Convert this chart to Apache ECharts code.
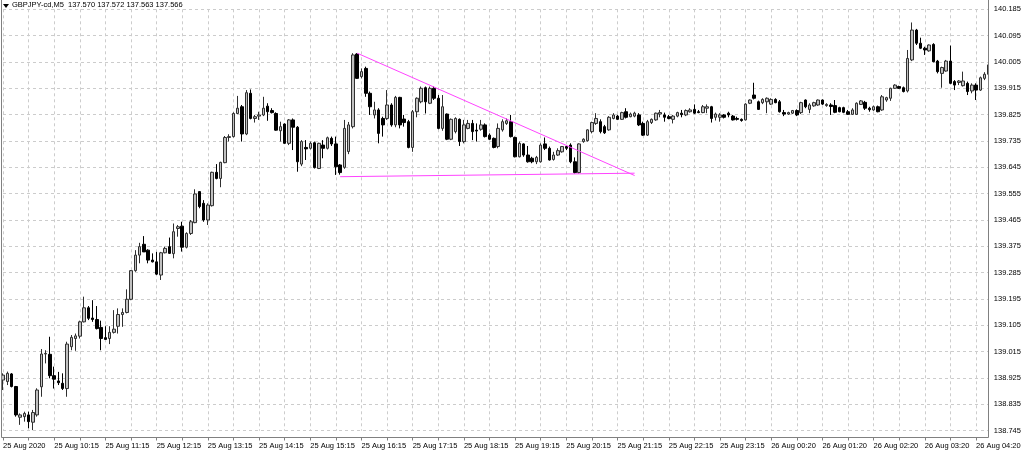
<!DOCTYPE html>
<html><head><meta charset="utf-8">
<script src="https://cdn.jsdelivr.net/npm/echarts@6/dist/echarts.min.js"></script>
<style>html,body{margin:0;padding:0;background:#fff}#c{width:1024px;height:454px}</style>
</head><body><div id="c"></div>
<script>
const opens=[
138.918,138.913,138.939,138.896,138.791,138.793,138.799,138.774,138.799,138.895,139.007,139.006,
138.933,138.915,138.907,138.889,139.032,139.060,139.068,139.117,139.165,139.130,139.125,139.098,
139.063,139.060,139.081,139.102,139.142,139.149,139.194,139.292,139.345,139.382,139.362,139.328,
139.322,139.277,139.353,139.374,139.350,139.436,139.444,139.372,139.419,139.456,139.562,139.522,
139.465,139.514,139.628,139.607,139.661,139.747,139.750,139.829,139.852,139.759,139.898,139.812,
139.820,139.824,139.854,139.839,139.829,139.770,139.793,139.727,139.807,139.782,139.656,139.713,
139.710,139.729,139.641,139.721,139.710,139.744,139.725,139.653,139.645,139.699,139.784,140.032,
139.955,139.983,139.898,139.824,139.841,139.812,139.812,139.858,139.790,139.884,139.810,139.801,
139.713,139.835,139.869,139.917,139.864,139.915,139.881,139.778,139.827,139.741,139.767,139.809,
139.733,139.778,139.795,139.772,139.775,139.790,139.755,139.744,139.716,139.773,139.795,139.801,
139.747,139.681,139.725,139.687,139.676,139.664,139.664,139.725,139.710,139.672,139.687,139.698,
139.716,139.721,139.664,139.627,139.733,139.736,139.767,139.795,139.801,139.784,139.773,139.812,
139.820,139.809,139.835,139.818,139.820,139.824,139.795,139.755,139.798,139.807,139.827,139.824,
139.818,139.809,139.820,139.830,139.824,139.835,139.843,139.835,139.832,139.847,139.852,139.816,
139.816,139.824,139.830,139.820,139.812,139.809,139.807,139.864,139.892,139.869,139.866,139.869,
139.861,139.877,139.869,139.832,139.827,139.830,139.839,139.832,139.875,139.843,139.855,139.858,
139.875,139.856,139.858,139.856,139.849,139.849,139.835,139.826,139.826,139.860,139.867,139.847,
139.841,139.852,139.841,139.875,139.881,139.915,139.921,139.917,139.906,140.012,140.114,140.069,
140.052,140.043,140.065,140.008,139.966,139.974,140.008,139.938,139.935,139.924,139.932,139.906,
139.926,139.909,139.949,139.963];
const highs=[
138.941,138.947,138.942,138.898,138.804,138.810,138.810,138.816,138.890,139.024,139.020,139.066,
138.964,138.946,138.941,139.049,139.072,139.077,139.121,139.203,139.171,139.191,139.171,139.121,
139.102,139.102,139.157,139.163,139.163,139.228,139.294,139.362,139.387,139.410,139.365,139.351,
139.356,139.356,139.374,139.405,139.453,139.448,139.459,139.423,139.465,139.570,139.563,139.533,
139.522,139.630,139.656,139.664,139.752,139.758,139.833,139.889,139.858,139.909,139.911,139.824,
139.835,139.886,139.864,139.847,139.833,139.801,139.795,139.810,139.812,139.786,139.738,139.738,
139.733,139.733,139.729,139.738,139.750,139.750,139.750,139.656,139.807,139.800,140.035,140.035,
139.983,139.989,139.904,139.869,139.847,139.818,139.909,139.864,139.889,139.886,139.824,139.807,
139.841,139.884,139.921,139.921,139.921,139.921,139.892,139.892,139.829,139.812,139.816,139.812,
139.807,139.807,139.807,139.795,139.807,139.795,139.761,139.747,139.795,139.809,139.812,139.824,
139.750,139.733,139.727,139.718,139.681,139.684,139.727,139.747,139.716,139.698,139.710,139.718,
139.721,139.727,139.679,139.727,139.744,139.775,139.801,139.830,139.809,139.790,139.820,139.830,
139.824,139.835,139.847,139.832,139.835,139.830,139.801,139.807,139.812,139.832,139.841,139.832,
139.824,139.824,139.835,139.841,139.843,139.847,139.860,139.841,139.858,139.860,139.855,139.832,
139.830,139.827,139.835,139.824,139.818,139.812,139.864,139.877,139.934,139.873,139.881,139.884,
139.881,139.881,139.875,139.841,139.835,139.841,139.843,139.869,139.877,139.864,139.869,139.877,
139.877,139.864,139.864,139.875,139.852,139.852,139.841,139.847,139.867,139.875,139.872,139.852,
139.856,139.856,139.892,139.886,139.917,139.929,139.924,139.921,140.046,140.140,140.118,140.088,
140.057,140.065,140.069,140.012,139.989,140.012,140.061,139.943,139.943,139.972,139.938,139.932,
139.932,139.955,139.970,140.006];
const lows=[
138.884,138.901,138.893,138.793,138.765,138.776,138.753,138.747,138.793,138.861,138.975,138.924,
138.889,138.901,138.884,138.861,139.020,139.018,139.060,139.115,139.123,139.117,139.091,139.020,
139.055,139.041,139.077,139.077,139.100,139.146,139.191,139.288,139.317,139.356,139.317,139.320,
139.277,139.260,139.351,139.349,139.334,139.408,139.357,139.368,139.414,139.454,139.505,139.459,
139.448,139.511,139.604,139.577,139.659,139.733,139.747,139.827,139.733,139.755,139.809,139.798,
139.807,139.820,139.804,139.829,139.770,139.733,139.725,139.721,139.704,139.630,139.649,139.670,
139.706,139.641,139.639,139.676,139.706,139.718,139.619,139.620,139.640,139.690,139.778,139.947,
139.949,139.886,139.824,139.812,139.727,139.750,139.807,139.784,139.782,139.778,139.784,139.710,
139.698,139.816,139.864,139.829,139.861,139.875,139.775,139.770,139.738,139.738,139.761,139.718,
139.727,139.775,139.738,139.733,139.770,139.747,139.738,139.710,139.710,139.767,139.790,139.747,
139.679,139.679,139.681,139.661,139.659,139.656,139.661,139.704,139.668,139.668,139.684,139.695,
139.704,139.659,139.624,139.624,139.729,139.733,139.761,139.790,139.761,139.759,139.770,139.809,
139.807,139.807,139.812,139.816,139.816,139.786,139.752,139.752,139.793,139.804,139.816,139.801,
139.809,139.795,139.816,139.816,139.820,139.832,139.827,139.830,139.830,139.830,139.798,139.805,
139.801,139.812,139.816,139.805,139.805,139.801,139.805,139.861,139.877,139.841,139.861,139.830,
139.858,139.864,139.832,139.820,139.824,139.827,139.820,139.827,139.847,139.830,139.852,139.855,
139.858,139.852,139.824,139.830,139.833,139.830,139.824,139.824,139.824,139.858,139.841,139.835,
139.838,139.833,139.838,139.869,139.872,139.913,139.913,139.901,139.901,140.008,140.063,140.049,
140.029,140.040,140.004,139.966,139.917,139.972,139.929,139.909,139.926,139.921,139.892,139.898,
139.875,139.906,139.943,139.961];
const closes=[
138.935,138.941,138.896,138.799,138.799,138.804,138.776,138.807,138.884,139.007,139.009,138.933,
138.921,138.909,138.889,139.041,139.064,139.069,139.117,139.165,139.129,139.125,139.094,139.060,
139.057,139.081,139.092,139.142,139.149,139.194,139.292,139.345,139.374,139.356,139.328,139.322,
139.280,139.353,139.368,139.351,139.425,139.442,139.372,139.419,139.459,139.554,139.511,139.465,
139.516,139.628,139.607,139.662,139.747,139.750,139.829,139.847,139.759,139.900,139.812,139.818,
139.824,139.847,139.835,139.832,139.772,139.784,139.727,139.807,139.782,139.664,139.733,139.708,
139.727,139.644,139.727,139.710,139.746,139.725,139.647,139.627,139.778,139.790,140.029,139.949,
139.972,139.898,139.852,139.841,139.761,139.790,139.858,139.790,139.884,139.790,139.798,139.713,
139.835,139.881,139.915,139.869,139.915,139.881,139.778,139.852,139.741,139.809,139.812,139.733,
139.790,139.795,139.767,139.769,139.790,139.750,139.741,139.713,139.778,139.801,139.804,139.750,
139.681,139.727,139.687,139.664,139.664,139.679,139.721,139.710,139.670,139.687,139.702,139.716,
139.710,139.664,139.627,139.725,139.741,139.773,139.798,139.812,139.767,139.763,139.816,139.824,
139.809,139.832,139.816,139.827,139.830,139.790,139.755,139.801,139.809,139.830,139.832,139.816,
139.812,139.820,139.832,139.825,139.839,139.841,139.830,139.832,139.852,139.852,139.812,139.827,
139.824,139.816,139.824,139.807,139.809,139.805,139.861,139.875,139.881,139.843,139.877,139.881,
139.877,139.866,139.835,139.827,139.832,139.839,139.824,139.866,139.852,139.858,139.866,139.875,
139.861,139.860,139.853,139.833,139.835,139.833,139.826,139.841,139.864,139.872,139.847,139.842,
139.852,139.835,139.886,139.883,139.915,139.926,139.915,139.904,140.017,140.114,140.069,140.052,
140.046,140.063,140.006,139.972,139.986,140.008,139.932,139.926,139.940,139.940,139.904,139.926,
139.909,139.951,139.963,139.995];
// x-axis tick labels, one every 12 bars (1 hour of M5 bars)
const tickLabels=['25 Aug 2020','25 Aug 10:15','25 Aug 11:15','25 Aug 12:15','25 Aug 13:15','25 Aug 14:15',
'25 Aug 15:15','25 Aug 16:15','25 Aug 17:15','25 Aug 18:15','25 Aug 19:15','25 Aug 20:15','25 Aug 21:15',
'25 Aug 22:15','25 Aug 23:15','26 Aug 00:20','26 Aug 01:20','26 Aug 02:20','26 Aug 03:20','26 Aug 04:20'];
const headerText='GBPJPY-cd,M5  137.570 137.572 137.563 137.566';
// trendlines: [bar index, price]
const trendUpper=[[83,140.035],[148,139.617]];
const trendLower=[[79,139.613],[148,139.625]];
const yMin=138.745, yMax=140.185, yStep=0.09;

const cats=opens.map((_,i)=>String(i));
const candles=opens.map((o,i)=>[o,closes[i],lows[i],highs[i]]);
const FONT='Liberation Sans';
const chart=echarts.init(document.getElementById('c'),null,{renderer:'canvas'});
chart.setOption({
  animation:false,
  backgroundColor:'#ffffff',
  grid:{left:2.136,width:986.7,top:9.3,height:421.4,containLabel:false},
  xAxis:{type:'category',data:cats,boundaryGap:false,offset:6.8,
    axisLine:{show:false},
    axisTick:{show:true,interval:5,length:3,lineStyle:{color:'#808080'}},
    axisLabel:{interval:11,align:'left',margin:4,fontSize:7.5,color:'#000',fontFamily:FONT,
      formatter:(v)=>{const i=Number(v);return i%12===0?(tickLabels[i/12]||''):'';}},
    splitLine:{show:true,interval:5,lineStyle:{color:'#cccccc',type:[3,3],width:1}}},
  yAxis:{type:'value',position:'right',min:yMin,max:yMax,interval:yStep,
    axisLine:{show:false},
    axisTick:{show:true,length:3,lineStyle:{color:'#808080'}},
    axisLabel:{margin:5,fontSize:7.5,color:'#000',fontFamily:FONT,formatter:(v)=>v.toFixed(3)},
    splitLine:{show:true,lineStyle:{color:'#cccccc',type:[3,3],width:1}}},
  series:[
    {type:'candlestick',data:candles,barWidth:3,
     itemStyle:{color:'#c0c0c0',color0:'#000000',borderColor:'#303030',borderColor0:'#000000',borderWidth:1}},
    {type:'line',data:trendUpper,symbol:'none',silent:true,z:5,lineStyle:{color:'#ff44ff',width:1}},
    {type:'line',data:trendLower,symbol:'none',silent:true,z:5,lineStyle:{color:'#ff44ff',width:1}}
  ],
  graphic:[
    {type:'rect',z:100,silent:true,shape:{x:989,y:0,width:4,height:437},style:{fill:'#ffffff'}},
    {type:'polyline',z:101,silent:true,shape:{points:[[1.5,0],[1.5,437.5],[988.5,437.5],[988.5,0]]},style:{stroke:'#808080',lineWidth:1,fill:null}},
    {type:'polygon',z:101,silent:true,shape:{points:[[3,4],[9,4],[6,8]]},style:{fill:'#000'}},
    {type:'text',z:101,silent:true,left:12,top:1,style:{text:headerText,font:'7.5px "Liberation Sans"',fill:'#000'}}
  ]
});
</script></body></html>
